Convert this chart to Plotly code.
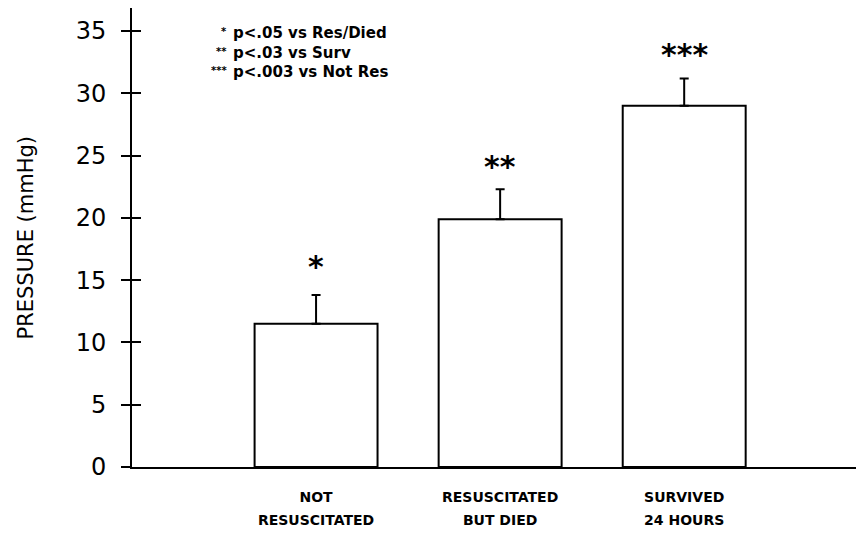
import plotly.graph_objects as go

categories_line1 = ["NOT", "RESUSCITATED", "SURVIVED"]
categories_line2 = ["RESUSCITATED", "BUT DIED", "24 HOURS"]
means = [11.5, 19.9, 29.0]
sems = [2.3, 2.4, 2.2]
stars = ["*", "**", "***"]
star_shift = [29, 23, 24]
y_ticks = [0, 5, 10, 15, 20, 25, 30, 35]
legend_marks = ["*", "**", "***"]
legend_texts = ["p<.05 vs Res/Died", "p<.03 vs Surv", "p<.003 vs Not Res"]

FONT = "DejaVu Sans"
# the page body adds an 8px offset, so the figure is sized/margined to compensate
W, H = 856, 523
L, R, T, B = 124, 2, 0, 64
PH = H - T - B
PW = W - L - R
xr = [-1.0, 2.966]
yr = [0, 36.85]
xs = list(range(len(means)))

fig = go.Figure()
fig.add_trace(go.Bar(
    x=xs, y=means, width=0.668,
    marker=dict(color="white", line=dict(color="black", width=2)),
    error_y=dict(type="data", symmetric=False, array=sems, arrayminus=[0]*len(sems),
                 color="black", thickness=2, width=4.5),
    showlegend=False, hoverinfo="skip",
))
fig.add_trace(go.Scatter(x=[0], y=[0], xaxis="x2", yaxis="y2", mode="markers",
                         marker=dict(opacity=0), showlegend=False, hoverinfo="skip"))

for i, (m, s) in enumerate(zip(means, sems)):
    fig.add_annotation(x=i, y=m + s, text="<b>" + stars[i] + "</b>", showarrow=False,
                       yshift=star_shift[i], yanchor="middle",
                       font=dict(family=FONT, size=30, color="black"))

LEG_SIZE = 15
LEG_LINE = 1.3 * LEG_SIZE
LEG_MID = 45  # figure px of middle line centre
fig.add_annotation(xref="paper", yref="paper", x=(223 - L) / PW, y=1 - (LEG_MID - T) / PH,
                   text="<br>".join("<b>" + t + "</b>" for t in legend_texts),
                   showarrow=False, xanchor="left", yanchor="middle", align="left",
                   font=dict(family=FONT, size=LEG_SIZE, color="black"))
for j, mk in enumerate(legend_marks):
    yc = LEG_MID + (j - 1) * LEG_LINE - 2
    fig.add_annotation(xref="paper", yref="paper", x=(221 - L) / PW, y=1 - (yc - T) / PH,
                       text="<b>" + mk + "</b>", showarrow=False, xanchor="right", yanchor="middle",
                       font=dict(family=FONT, size=10, color="black"))

fig.add_annotation(xref="paper", yref="paper", x=(17 - L) / PW, y=0.5,
                   text="PRESSURE (mmHg)", textangle=-90, showarrow=False,
                   xanchor="center", yanchor="middle",
                   font=dict(family=FONT, size=21, color="black"))

fig.update_layout(
    width=W, height=H, margin=dict(l=L, r=R, t=T, b=B),
    paper_bgcolor="white", plot_bgcolor="white",
    font=dict(family=FONT, color="black"),
    xaxis=dict(range=xr, tickmode="array", tickvals=xs,
               ticktext=["<b>" + c + "</b>" for c in categories_line1],
               showline=True, linecolor="black", linewidth=2, ticks="",
               showgrid=False, zeroline=False, ticklabelstandoff=16,
               tickfont=dict(family=FONT, size=14)),
    xaxis2=dict(range=xr, overlaying="x", anchor="y", side="bottom", tickmode="array", tickvals=xs,
                ticktext=["<b>" + c + "</b>" for c in categories_line2],
                showline=False, ticks="", showgrid=False, zeroline=False,
                ticklabelstandoff=43, tickfont=dict(family=FONT, size=14)),
    yaxis=dict(range=yr, tickvals=y_ticks, showline=True, linecolor="black", linewidth=2,
               ticks="outside", ticklen=9, tickwidth=2, tickcolor="black",
               showgrid=False, zeroline=False, ticklabelstandoff=10,
               tickfont=dict(family=FONT, size=24)),
    yaxis2=dict(range=yr, overlaying="y", anchor="x", side="left", tickvals=y_ticks,
                ticks="inside", ticklen=9, tickwidth=2, tickcolor="black",
                showticklabels=False, showline=False, showgrid=False, zeroline=False),
)
fig.write_html("out.html")
